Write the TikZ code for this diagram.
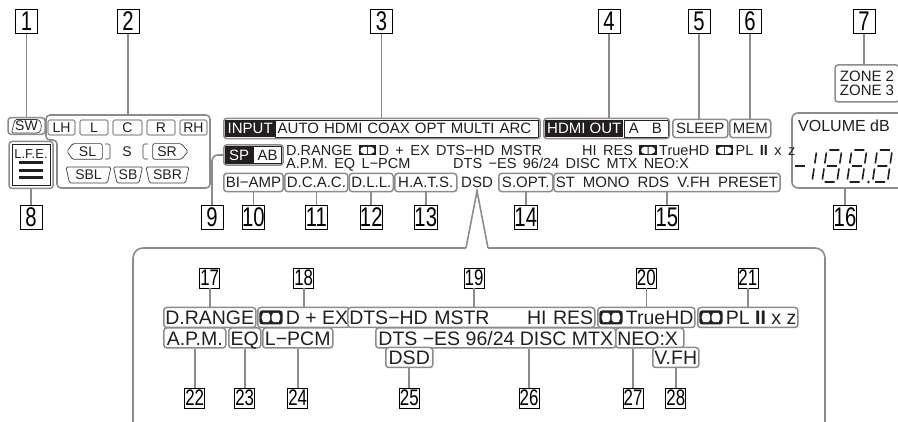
\documentclass[tikz,border=0pt]{standalone}
\usepackage{fontspec}
\setmainfont{Liberation Sans}
\newfontfamily\numfam[FakeStretch=0.75]{Liberation Sans}
\newfontfamily\lcdfam[WordSpace=1.6]{Liberation Sans}
\usetikzlibrary{positioning,fit}
\definecolor{dispink}{HTML}{231F20}
\definecolor{dispgrey}{HTML}{8C8C8C}
\definecolor{dispdark}{HTML}{3C3C3C}
\newcommand\dolby{\tikz[baseline=0pt,x=1em,y=1em]{%
  \fill[dispink] (0,0) rectangle (1.2,0.72);
  \fill[white] (0.56,0.12) -- (0.56,0.6) -- (0.36,0.6) arc[start angle=90,end angle=270,radius=0.24] -- cycle;
  \fill[white] (0.64,0.12) -- (0.64,0.6) -- (0.84,0.6) arc[start angle=90,end angle=-90,radius=0.24] -- cycle;}}
\tikzset{
  numbox/.style={draw=black,line width=0.6pt,fill=white,text=black,inner sep=0pt,
                 minimum width=22pt,minimum height=24pt,font=\numfam\fontsize{27}{27}\selectfont},
  numboxsm/.style={numbox,minimum width=20pt,minimum height=20pt,font=\numfam\fontsize{22.5}{22.5}\selectfont},
  leader/.style={draw=dispgrey,line width=1.6pt},
  tagbase/.style={draw=dispgrey,line width=1.5pt,rounded corners=3pt,fill=white,text=dispink,
                  inner xsep=2pt,inner ysep=3.8pt,font=\fontsize{15}{15}\selectfont},
  tag/.style={tagbase,text height=10.7pt,text depth=0pt},
  bigtag/.style={tag,inner xsep=1.5pt,inner ysep=3pt,text height=14pt,font=\fontsize{19.5}{19.5}\selectfont},
  bare/.style={text=dispink,inner sep=0pt,font=\lcdfam\fontsize{14.5}{14.5}\selectfont},
  darkcell/.style={fill=dispink,text=white,inner xsep=2pt,inner ysep=3.3pt,
                   text height=10.7pt,text depth=0pt,font=\fontsize{15}{15}\selectfont},
  lightcell/.style={darkcell,draw=dispink,line width=0.6pt,fill=white,text=dispink,align=left},
  barframe/.style={draw=dispgrey,line width=1.5pt,rounded corners=3pt,inner sep=1.2pt},
  spkbox/.style={draw=dispdark,line width=0.7pt,rounded corners=1.5pt,text=dispink,inner xsep=1pt,
                 inner ysep=2.5pt,text height=10pt,text depth=0pt,minimum height=15pt,
                 font=\fontsize{14}{14}\selectfont},
  spkline/.style={draw=dispdark,line width=0.7pt,rounded corners=1.5pt},
  segline/.style={draw=dispink,line width=1.6pt},
  segcell/.style={shift={(#1,182)},xslant=0.15},
}

\begin{document}
\begin{tikzpicture}[x=1pt,y=-1pt]
  \useasboundingbox (0,0) rectangle (898,422);

  % callouts, top row
  \node[numbox] (n1) at (26.5,21.5) {1};
  \node[numbox] (n2) at (128,21.5) {2};
  \node[numbox] (n3) at (381.5,21.5) {3};
  \node[numbox] (n4) at (609,21.5) {4};
  \node[numbox] (n5) at (699,21.5) {5};
  \node[numbox] (n6) at (750,21.5) {6};
  \node[numbox] (n7) at (864,21.5) {7};

  % speaker panel
  \draw[leader,rounded corners=4pt] (46,115) -- (210,115) -- (210,188) -- (57,188)
    -- (57,140) -- (46,140) -- cycle;
  \coordinate (spk) at (128,115);
  \node[tag,minimum width=37pt,font=\fontsize{14}{14}\selectfont,text height=10pt,
        inner ysep=3.3pt] (sw) at (26.5,126) {SW};
  \draw[spkline] (11.5,133) -- (15,119.5) -- (38,119.5)
    .. controls (42,122) and (42,130.5) .. (38,133) -- cycle;
  \node[spkbox,minimum width=27pt] (lh) at (61.5,127.5) {LH};
  \node[spkbox,minimum width=28pt] (l) at (94,127.5) {L};
  \node[spkbox,minimum width=29pt] (c) at (127.5,127.5) {C};
  \node[spkbox,minimum width=28pt] (r) at (161,127.5) {R};
  \node[spkbox,minimum width=27pt] (rh) at (193.5,127.5) {RH};

  \node[spkbox,draw=none,minimum width=29pt] (sl) at (87.5,151.5) {SL};
  \draw[spkline] (sl.north east) -- (sl.north west) -- (67,151.5) -- (sl.south west)
    -- (sl.south east) -- cycle;
  \draw[spkline] (105,144) -- (110,144) -- (110,159) -- (105,159);
  \node[bare,font=\fontsize{14}{14}\selectfont] (s) at (127,151.5) {S};
  \draw[spkline] (148,144) -- (143,144) -- (143,159) -- (148,159);
  \node[spkbox,draw=none,minimum width=28pt] (sr) at (167,151.5) {SR};
  \draw[spkline] (sr.north west) -- (sr.north east) -- (188,151.5) -- (sr.south east)
    -- (sr.south west) -- cycle;

  \node[spkbox,draw=none] (sbl) at (88.5,175) {SBL};
  \node[spkbox,draw=none] (sb) at (128,175) {SB};
  \node[spkbox,draw=none] (sbr) at (167.5,175) {SBR};
  \draw[spkline] (66,167) -- (69.5,183) -- (107.5,183) -- (111,167) -- cycle;
  \draw[spkline] (113.5,167) -- (117,183) -- (139,183) -- (142.5,167) -- cycle;
  \draw[spkline] (146,167) -- (149.5,183) -- (185.5,183) -- (189,167) -- cycle;

  % L.F.E.
  \node[tagbase,minimum width=44pt,minimum height=47pt,inner sep=0pt] (lfe) at (31,165) {};
  \draw[dispink,line width=0.6pt] (12,144.5) rectangle (50,185.5);
  \node[bare,font=\fontsize{13}{13}\selectfont] (lfetxt) at (31,154) {L.F.E.};
  \foreach \by in {163,170.5,178}
    \fill[dispink] (19,\by-1.5) rectangle (43,\by+1.5);

  % input and hdmi bars
  \node[darkcell,anchor=west,minimum width=50pt] (inpk) at (225,128.5) {INPUT};
  \node[lightcell,anchor=west,text width=259pt] (inpv) at (inpk.east)
    {AUTO HDMI COAX OPT MULTI ARC};
  \node[barframe,fit=(inpk)(inpv)] (inputbar) {};
  \node[darkcell,anchor=west,minimum width=77pt] (hdmk) at (545,128.5) {HDMI OUT};
  \node[lightcell,anchor=west,text width=40pt] (hdmv) at (hdmk.east) {\hspace*{3pt}A\hspace{13pt}B};
  \node[barframe,fit=(hdmk)(hdmv)] (hdmibar) {};
  \node[tag,anchor=west,minimum width=55pt] (sleep) at (672,128.5) {SLEEP};
  \node[tag,anchor=west,minimum width=41pt] (mem) at (729,128.5) {MEM};
  \node[tagbase,align=center,font=\fontsize{15}{13.5}\selectfont,minimum width=64pt,
        minimum height=37pt] (zone) at (867,83.5) {ZONE 2\\ZONE 3};

  % volume window
  \draw[leader,rounded corners=6pt] (902,113) -- (792,113) -- (792,188) -- (902,188);
  \node[bare,anchor=west,font=\fontsize{16}{16}\selectfont] (voltxt) at (798,125.5) {VOLUME dB};
  \coordinate (vol) at (845,188);
  \begin{scope}[segcell=790]
    \draw[segline] (2.5,-16) -- (13,-16);
  \end{scope}
  \begin{scope}[segcell=797]
    \draw[segline] (15,-29.5) -- (15,-18.5) (15,-13.5) -- (15,-2.5);
  \end{scope}
  \foreach \cx in {822,847,872.5}{
    \begin{scope}[segcell=\cx]
      \draw[segline] (2.5,-32) -- (12.5,-32) (15,-29.5) -- (15,-18.5) (15,-13.5) -- (15,-2.5)
        (2.5,0) -- (12.5,0) (0,-13.5) -- (0,-2.5) (0,-29.5) -- (0,-18.5) (2.5,-16) -- (12.5,-16);
    \end{scope}}
  \fill[dispink] (868.5,182) circle (1.4);

  % second and third lines
  \node[darkcell,anchor=west,minimum width=28pt] (spkey) at (225,155) {SP};
  \node[lightcell,anchor=west,minimum width=28pt] (spval) at (spkey.east) {AB};
  \node[barframe,fit=(spkey)(spval)] (spab) {};
  \node[bare,anchor=base west] (lineA) at (286,155.5) {D.RANGE \dolby\,D + EX DTS−HD MSTR};
  \node[bare,anchor=base west] (lineB) at (582,155.5) {HI RES \dolby\,TrueHD \dolby\,PL \textbf{II} x z};
  \node[bare,anchor=base west] (lineC) at (286,168.5) {A.P.M. EQ L−PCM};
  \node[bare,anchor=base west] (lineD) at (453,168.5) {DTS −ES 96/24 DISC MTX NEO:X};

  \node[tag,anchor=west,minimum width=59pt] (biamp) at (223,182.5) {BI−AMP};
  \node[tag,anchor=west,minimum width=63pt] (dcac) at (284,182.5) {D.C.A.C.};
  \node[tag,anchor=west,minimum width=44pt] (dll) at (348.5,182.5) {D.L.L.};
  \node[tag,anchor=west,minimum width=62pt] (hats) at (394,182.5) {H.A.T.S.};
  \node[bare,anchor=west,font=\fontsize{15}{15}\selectfont] (dsd) at (461,182.5) {DSD};
  \node[tag,anchor=west,minimum width=54pt] (sopt) at (498,182.5) {S.OPT.};
  \node[tag,anchor=west,minimum width=220pt] (stmono) at (553,182.5)
    {ST\hspace{8pt}MONO\hspace{8pt}RDS\hspace{8pt}V.FH\hspace{8pt}PRESET};

  % callouts, middle row
  \node[numbox] (n8) at (31,217.5) {8};
  \node[numbox] (n9) at (212,217.5) {9};
  \node[numbox] (n10) at (biamp |- 0,217.5) {10};
  \node[numbox] (n11) at (dcac |- 0,217.5) {11};
  \node[numbox] (n12) at (dll |- 0,217.5) {12};
  \node[numbox] (n13) at (hats |- 0,217.5) {13};
  \node[numbox] (n14) at (sopt |- 0,217.5) {14};
  \node[numbox] (n15) at (stmono |- 0,217.5) {15};
  \node[numbox] (n16) at (845,217.5) {16};

  % enlarged area
  \coordinate (zl) at (466,248);
  \coordinate (zr) at (488,248);
  \draw[leader] (zl) -- ([yshift=-3pt]dsd.south) -- (zr);
  \draw[leader,rounded corners=10pt] (zl) -- (133,248) -- (133,426);
  \draw[leader,rounded corners=10pt] (zr) -- (825,248) -- (825,426);

  \node[bigtag,anchor=west,minimum width=92pt] (drange) at (163,317.5) {D.RANGE};
  \node[bigtag,anchor=west,minimum width=86pt] (dex) at (257,317.5) {\dolby\,D + EX};
  \node[bigtag,anchor=west,text width=244pt,align=left] (dtshd) at (347,317.5)
    {DTS−HD MSTR\hfill HI RES};
  \node[bigtag,anchor=west,minimum width=96pt] (truehd) at (597,317.5) {\dolby\,TrueHD};
  \node[bigtag,anchor=west,minimum width=93pt] (plii) at (697,317.5) {\dolby\,PL \textbf{II} x z};
  \node[bigtag,anchor=west,minimum width=62pt] (apm) at (163,338) {A.P.M.};
  \node[bigtag,anchor=west,minimum width=32pt] (eq) at (228,338) {EQ};
  \node[bigtag,anchor=west,minimum width=70pt] (lpcm) at (262,338) {L−PCM};
  \node[bigtag,anchor=west,minimum width=240pt] (dtses) at (375,338) {DTS −ES 96/24 DISC MTX};
  \node[bigtag,anchor=west,text width=65pt,align=left] (neo) at (615,338) {NEO:X};
  \node[bigtag,anchor=west,minimum width=47pt] (dsdz) at (385,357.5) {DSD};
  \node[bigtag,anchor=west,minimum width=46pt] (vfh) at (652,357.5) {V.FH};

  % callouts, enlarged area
  \node[numboxsm] (n17) at (drange |- 0,278) {17};
  \node[numboxsm] (n18) at (dex |- 0,278) {18};
  \node[numboxsm] (n19) at (474,278) {19};
  \node[numboxsm] (n20) at (truehd |- 0,278) {20};
  \node[numboxsm] (n21) at (plii |- 0,278) {21};
  \node[numboxsm] (n22) at (apm |- 0,398) {22};
  \node[numboxsm] (n23) at (eq |- 0,398) {23};
  \node[numboxsm] (n24) at (lpcm |- 0,398) {24};
  \node[numboxsm] (n25) at (dsdz |- 0,398) {25};
  \node[numboxsm] (n26) at (529,398) {26};
  \node[numboxsm] (n27) at (633,398) {27};
  \node[numboxsm] (n28) at (vfh |- 0,398) {28};

  % leaders
  \draw[leader] (n1) -- (sw);
  \draw[leader] (n2) -- (spk);
  \draw[leader] (n3) -- (n3 |- inputbar.north);
  \draw[leader] (n4) -- (n4 |- hdmibar.north);
  \draw[leader] (n5) -- (n5 |- sleep.north);
  \draw[leader] (n6) -- (n6 |- mem.north);
  \draw[leader] (n7) -- (n7 |- zone.north);
  \draw[leader] (lfe) -- (n8);
  \draw[leader,rounded corners=6pt] (n9.north) |- (spab.west);
  \draw[leader] (biamp) -- (n10);
  \draw[leader] (dcac) -- (n11);
  \draw[leader] (dll) -- (n12);
  \draw[leader] (hats) -- (n13);
  \draw[leader] (sopt) -- (n14);
  \draw[leader] (stmono) -- (n15);
  \draw[leader] (vol) -- (n16);
  \draw[leader] (n17) -- (drange);
  \draw[leader] (n18) -- (dex);
  \draw[leader] (n19) -- (n19 |- dtshd.north);
  \draw[leader] (n20) -- (truehd);
  \draw[leader] (n21) -- (plii);
  \draw[leader] (apm) -- (n22);
  \draw[leader] (eq) -- (n23);
  \draw[leader] (lpcm) -- (n24);
  \draw[leader] (dsdz) -- (n25);
  \draw[leader] (n26) -- (n26 |- dtses.south);
  \draw[leader] (n27) -- (n27 |- neo.south);
  \draw[leader] (vfh) -- (n28);
\end{tikzpicture}
\end{document}
